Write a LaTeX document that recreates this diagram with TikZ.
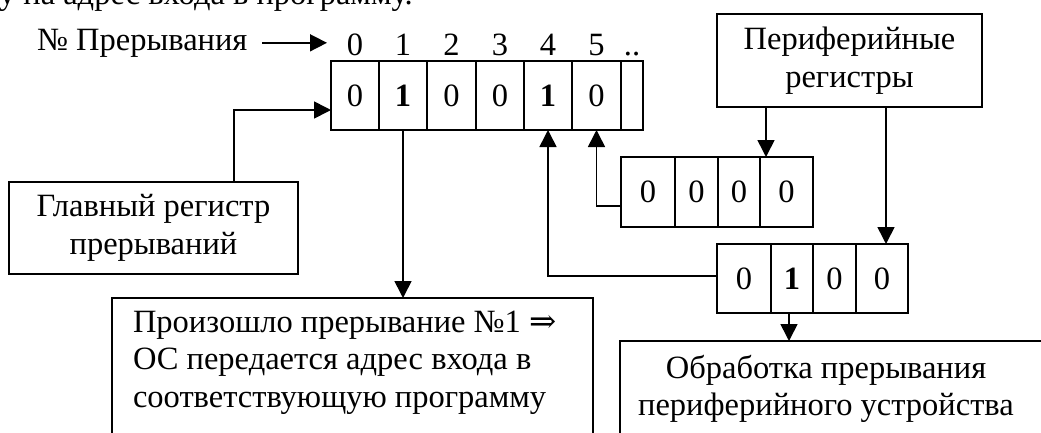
\documentclass[tikz,border=0pt]{standalone}
\usepackage{fontspec}
\setmainfont{Liberation Serif}
\newfontfamily\arrowfont{DejaVu Serif}
\usetikzlibrary{arrows.meta}
\begin{document}
\begin{tikzpicture}[x=1pt,y=-1pt,
  every node/.style={font=\fontsize{32.5}{37.5}\selectfont},
  lw/.style={line width=1.6pt},
  arr/.style={lw,-{Triangle[length=17pt,width=17pt]}},
  box/.style={draw,lw,inner sep=0pt,outer sep=0pt,align=center},
  cell/.style={draw,lw,inner sep=0pt,outer sep=0pt},
  txt/.style={inner sep=0pt,outer sep=0pt}]
\useasboundingbox (0,0) rectangle (1041,432);
\clip (0,0) rectangle (1041,432);

% cut-off line of text at the top
\node[txt,anchor=base west] (topline) at (-1,4) {у на адрес входа в программу.};

% interrupt number caption
\node[txt,anchor=base west] (nomer) at (37,50) {№ Прерывания};
\coordinate (nomerEnd) at (327,43);

% main interrupt register
\node[cell,minimum height=69pt,minimum width=48pt] (m0) at (355,95.5) {0};
\node[cell,minimum height=69pt,minimum width=48pt] (m1) at (403,95.5) {\textbf{1}};
\node[cell,minimum height=69pt,minimum width=49pt] (m2) at (451.5,95.5) {0};
\node[cell,minimum height=69pt,minimum width=48pt] (m3) at (500,95.5) {0};
\node[cell,minimum height=69pt,minimum width=48pt] (m4) at (548,95.5) {\textbf{1}};
\node[cell,minimum height=69pt,minimum width=49pt] (m5) at (596.5,95.5) {0};
\node[cell,minimum height=69pt,minimum width=22pt] (m6) at (632,95.5) {};
\foreach \i/\t in {0/0,1/1,2/2,3/3,4/4,5/5,6/..}
  \node[txt,anchor=base] (l\i) at ([yshift=6pt]m\i.north) {\t};

% peripheral register 1
\node[cell,minimum height=70pt,minimum width=54pt] (p0) at (648,192) {0};
\node[cell,minimum height=70pt,minimum width=43pt] (p1) at (696.5,192) {0};
\node[cell,minimum height=70pt,minimum width=42pt] (p2) at (739,192) {0};
\node[cell,minimum height=70pt,minimum width=53pt] (p3) at (786.5,192) {0};

% peripheral register 2
\node[cell,minimum height=69pt,minimum width=54pt] (q0) at (744,278.5) {0};
\node[cell,minimum height=69pt,minimum width=42pt] (q1) at (792,278.5) {\textbf{1}};
\node[cell,minimum height=69pt,minimum width=43pt] (q2) at (834.5,278.5) {0};
\node[cell,minimum height=69pt,minimum width=52pt] (q3) at (882,278.5) {0};

% text boxes
\node[box,minimum width=289pt,minimum height=92pt] (glav) at (153.5,228) {Главный регистр\\прерываний};
\node[box,minimum width=265pt,minimum height=93pt] (periph) at (849.5,60.5) {Периферийные\\регистры};
\node[box,minimum width=481pt,minimum height=172pt] (proiz) at (352.5,384) {};
\node[txt,anchor=north west,align=left] (proizT) at (133,311) {Произошло прерывание №1 {\arrowfont ⇒}\\ОС передается адрес входа в\\соответствующую программу};
\node[box,minimum width=460pt,minimum height=129pt] (obrab) at (850,405.5) {};
\node[txt,anchor=north,align=center] (obrabT) at (826,355) {Обработка прерывания\\периферийного устройства};

% connectors
\draw[arr] (nomer.east) ++(15pt,0) -- (nomerEnd |- nomer.east);
\draw[arr] ([xshift=80.5pt]glav.north) |- ([yshift=-14.5pt]m0.west);
\draw[arr] (m1.south) -- (m1.south |- proiz.north);
\draw[arr] ([yshift=-14pt]p0.west) -| (m5.south);
\draw[arr] ([yshift=2.5pt]q0.west) -| (m4.south);
\draw[arr] ([xshift=-83.5pt]periph.south) -- ([xshift=-83.5pt]periph.south |- p3.north);
\draw[arr] ([xshift=36.5pt]periph.south) -- ([xshift=36.5pt]periph.south |- q3.north);
\draw[arr] ([xshift=-3pt]q1.south) -- ([xshift=-3pt]q1.south |- obrab.north);
\end{tikzpicture}
\end{document}
